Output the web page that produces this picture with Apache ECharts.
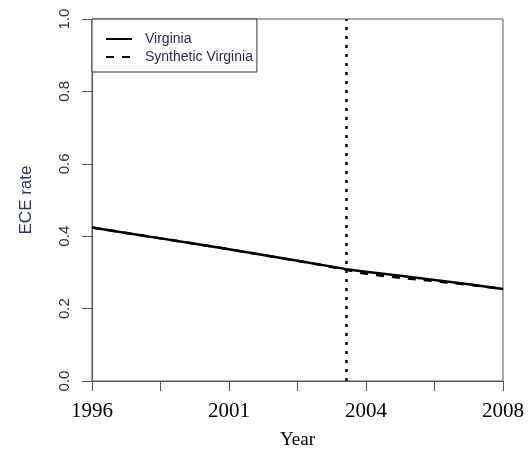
<!DOCTYPE html>
<html>
<head>
<meta charset="utf-8">
<script src="https://cdn.jsdelivr.net/npm/echarts@6/dist/echarts.min.js"></script>
<style>
  html, body { margin: 0; padding: 0; background: #fff; }
  #chart { width: 531px; height: 452px; }
</style>
</head>
<body>
<div id="chart"></div>
<script>
// Time positions on the axis (tick units) and the labels printed under the ticks
const timeIndex = [0, 0.5, 1, 1.5, 2, 2.5, 3, 3.5, 3.71, 4, 4.5, 5, 5.5, 6];
const tickLabels = ['1996', '', '2001', '', '2004', '', '2008'];

// ECE rate: observed and synthetic control
const virginia =          [0.424, 0.409, 0.394, 0.379, 0.364, 0.348, 0.332, 0.316, 0.309, 0.302, 0.291, 0.279, 0.267, 0.254];
const syntheticVirginia = [0.424, 0.409, 0.394, 0.379, 0.364, 0.348, 0.332, 0.315, 0.307, 0.296, 0.285, 0.276, 0.266, 0.254];

// Treatment date (tick units)
const treatmentAt = 3.71;

const pairs = (xs, ys) => xs.map((x, i) => [x, ys[i]]);

const chart = echarts.init(document.getElementById('chart'));
chart.setOption({
  animation: false,
  grid: {
    left: 92, right: 28, top: 19, bottom: 71,
    outerBoundsMode: 'none', containLabel: false,
    show: true, borderColor: '#555', borderWidth: 1
  },
  legend: {
    show: true,
    left: 92, top: 19, right: 'auto', bottom: 'auto',
    orient: 'vertical',
    backgroundColor: '#fff',
    borderColor: '#333', borderWidth: 1, borderRadius: 0,
    padding: [13, 4, 8, 13],
    itemWidth: 26, itemHeight: 14, itemGap: 4,
    itemStyle: { opacity: 0 },
    textStyle: { fontFamily: 'Liberation Sans, Arial, sans-serif', fontSize: 14, color: '#2b2b55', padding: [0, 0, 0, 8] },
    data: ['Virginia', 'Synthetic Virginia']
  },
  xAxis: {
    type: 'value', min: 0, max: 6, interval: 1,
    name: 'Year', nameLocation: 'middle', nameGap: 50,
    nameTextStyle: { fontFamily: 'Liberation Serif, Times New Roman, serif', fontSize: 19, color: '#000' },
    axisLine: { show: true, onZero: false, lineStyle: { color: '#555' } },
    axisTick: { show: true, inside: false, length: 10, lineStyle: { color: '#555' } },
    axisLabel: {
      margin: 20,
      fontFamily: 'Liberation Serif, Times New Roman, serif', fontSize: 21, color: '#000',
      formatter: v => tickLabels[Math.round(v)] || ''
    },
    splitLine: { show: false }
  },
  yAxis: {
    type: 'value', min: 0, max: 1, interval: 0.2,
    name: 'ECE rate', nameLocation: 'middle', nameGap: 57, nameRotate: 90,
    nameTextStyle: { fontFamily: 'Liberation Sans, Arial, sans-serif', fontSize: 17, color: '#2b3566' },
    axisLine: { show: true, lineStyle: { color: '#555' } },
    axisTick: { show: true, inside: false, length: 10, lineStyle: { color: '#555' } },
    axisLabel: {
      margin: 20, rotate: 90,
      fontFamily: 'Liberation Sans, Arial, sans-serif', fontSize: 15, color: '#333',
      formatter: v => v.toFixed(1)
    },
    splitLine: { show: false }
  },
  series: [
    {
      name: 'Virginia', type: 'line', symbol: 'none', smooth: false,
      data: pairs(timeIndex, virginia),
      lineStyle: { color: '#000', width: 2.5, type: 'solid' },
      itemStyle: { color: '#000' },
      markLine: {
        silent: true, symbol: 'none', label: { show: false },
        lineStyle: { color: '#000', width: 2.5, type: [3, 6] },
        data: [{ xAxis: treatmentAt }]
      },
      z: 3
    },
    {
      name: 'Synthetic Virginia', type: 'line', symbol: 'none', smooth: false,
      data: pairs(timeIndex, syntheticVirginia),
      lineStyle: { color: '#000', width: 2.5, type: [8, 8] },
      itemStyle: { color: '#000' },
      z: 2
    }
  ]
});
</script>
</body>
</html>
